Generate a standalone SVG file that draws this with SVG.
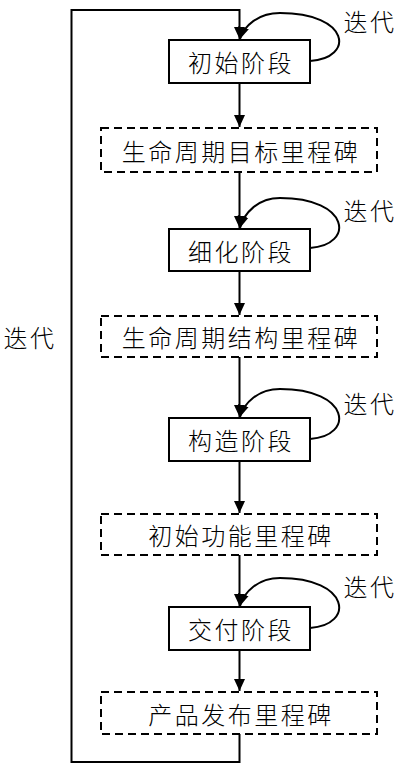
<svg xmlns="http://www.w3.org/2000/svg" width="404" height="771" viewBox="0 0 404 771">
<style>
.bg{fill:#fff}
.phase rect{fill:#fff;stroke:#000;stroke-width:2}
.mile rect{fill:#fff;stroke:#000;stroke-width:2;stroke-dasharray:8,5}
text{font-family:"Noto Sans CJK SC","Noto Sans CJK JP",sans-serif;font-size:24px;font-weight:300;fill:#000;text-anchor:middle;dominant-baseline:central;letter-spacing:2.5px}
.conn path{fill:none;stroke:#000;stroke-width:2}
</style>
<defs>
<marker id="ah" markerUnits="userSpaceOnUse" markerWidth="14" markerHeight="14" viewBox="0 0 14 14" refX="12" refY="7" orient="auto">
<path d="M0,1.5 L12,7 L0,12.5 Z" fill="#000"/>
</marker>
</defs>
<rect class="bg" x="0" y="0" width="404" height="771"/>
<g id="connectors" class="conn">
<path d="M239.5,734 V762 H71.5 V10 H239.5 V39" marker-end="url(#ah)"/>
<path d="M239.5,83 V127" marker-end="url(#ah)"/>
<path d="M239.5,172 V228" marker-end="url(#ah)"/>
<path d="M239.5,271 V315" marker-end="url(#ah)"/>
<path d="M239.5,357 V417" marker-end="url(#ah)"/>
<path d="M239.5,461 V513" marker-end="url(#ah)"/>
<path d="M239.5,555 V606" marker-end="url(#ah)"/>
<path d="M239.5,650 V691" marker-end="url(#ah)"/>
<path d="M310,61 C355,58 350,13 280,13 C258,13 244,26 240,39" marker-end="url(#ah)"/>
<path d="M310,248 C355,245 350,198 280,198 C258,198 244,213 240,228" marker-end="url(#ah)"/>
<path d="M310,439 C355,436 350,389 280,389 C258,389 244,403 240,417" marker-end="url(#ah)"/>
<path d="M310,628 C355,625 350,578 280,578 C258,578 244,592 240,606" marker-end="url(#ah)"/>
</g>
<g id="n1" class="phase"><rect x="169" y="40" width="141" height="43"/><text x="241" y="61.5">初始阶段</text></g>
<g id="m1" class="mile"><rect x="101" y="128" width="276" height="44"/><text x="241" y="150">生命周期目标里程碑</text></g>
<g id="n2" class="phase"><rect x="169" y="229" width="141" height="42"/><text x="241" y="250">细化阶段</text></g>
<g id="m2" class="mile"><rect x="101" y="316" width="276" height="41"/><text x="241" y="336.5">生命周期结构里程碑</text></g>
<g id="n3" class="phase"><rect x="169" y="418" width="141" height="43"/><text x="241" y="439.5">构造阶段</text></g>
<g id="m3" class="mile"><rect x="101" y="514" width="276" height="41"/><text x="241" y="534.5">初始功能里程碑</text></g>
<g id="n4" class="phase"><rect x="169" y="607" width="141" height="43"/><text x="241" y="628.5">交付阶段</text></g>
<g id="m4" class="mile"><rect x="101" y="692" width="276" height="42"/><text x="241" y="713">产品发布里程碑</text></g>
<g id="labels">
<text x="370" y="20">迭代</text>
<text x="370" y="209">迭代</text>
<text x="370" y="402">迭代</text>
<text x="370" y="585">迭代</text>
<text x="30" y="336">迭代</text>
</g>
</svg>
